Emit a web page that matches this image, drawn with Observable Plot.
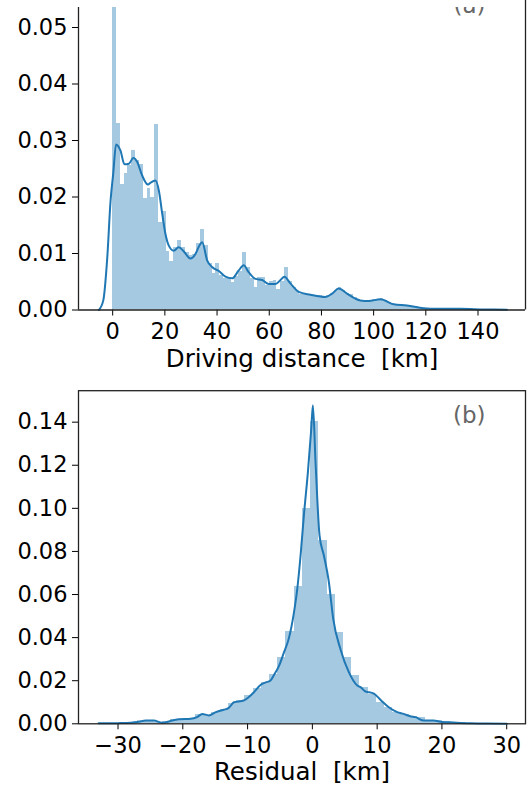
<!DOCTYPE html>
<html><head><meta charset="utf-8">
<script src="https://cdn.jsdelivr.net/npm/d3@7"></script>
<script src="https://cdn.jsdelivr.net/npm/@observablehq/plot@0.6"></script>
<style>
html,body{margin:0;padding:0;background:#fff;}
#chart{width:528px;height:786px;overflow:hidden;}
#chart svg{display:block;}
</style>
</head><body><div id="chart"></div>
<script>
const C0 = "#1f77b4";
const FONT = "DejaVu Sans";

// ---------- Panel (a): driving distance ----------
const distBinStart = 0;
const distBinWidth = 1.464;
const distHist = [
 0.0600,0.0330,0.0222,0.0242,0.0255,0.0282,0.0265,0.0258,0.0198,0.0215,
 0.0200,0.0328,0.0154,0.0174,0.0104,0.0085,0.0110,0.0123,0.0111,0.0101,
 0.0096,0.0098,0.0117,0.0143,0.0115,0.0082,0.0064,0.0082,0.0061,0.0055,
 0.0055,0.0048,0.0060,0.0068,0.0101,0.0075,0.0055,0.0040,0.0058,0.0058,
 0.0043,0.0051,0.0052,0.0037,0.0050,0.0075,0.0050,0.0040,0.0032,0.0027,
 0.0027,0.0027,0.0026,0.0026,0.0025,0.0024,0.0025,0.0029,0.0034,0.0040,
 0.0035,0.0030,0.0027,0.0022,0.0018,0.0017,0.0016,0.0016,0.0018,0.0019,
 0.0020,0.0017,0.0013,0.0010,0.0009,0.0009,0.0008,0.0008,0.0007,0.0006,
 0.0004,0.0003,0.0003,0.0002,0.0002,0.0002,0.0002,0.0002,0.0001,0.0002,
 0.0001,0.0001,0.0001,0.0001,0.0001,0.0000,0.0001,0.0000,0.0000,0.0001
];
const distKdeX = [-5.3,-3.6,-2.1,-0.8,0.2,1.3,3.0,4.5,6.2,7.9,9.4,11.3,13.5,14.7,16.4,17.7,19.0,20.2,21.5,23.4,25.3,27.2,29.8,31.7,33.0,34.3,36.2,38.1,40.7,43.2,45.8,48.3,50.2,52.1,54.7,57.3,59.8,62.4,64.3,65.8,68.1,71.3,75.8,81.5,84.1,86.6,89.8,93.0,94.9,98.1,102.6,107.7,112.8,119.2,124.3,133.3,142.2,151.1];
const distKdeY = [0,0.0017,0.0091,0.0194,0.0241,0.0293,0.0282,0.0258,0.0259,0.0269,0.0262,0.0238,0.0222,0.0226,0.0229,0.0211,0.0170,0.0135,0.0114,0.0105,0.0111,0.0104,0.0091,0.0099,0.0112,0.0120,0.0088,0.0076,0.0069,0.0059,0.0056,0.0070,0.0079,0.0067,0.0055,0.0053,0.0046,0.0046,0.0053,0.0059,0.0047,0.0032,0.0027,0.0023,0.0029,0.0038,0.0029,0.0020,0.0017,0.0016,0.0019,0.0010,0.0008,0.0003,0.0002,0.0002,0.0001,0.00005];
const distTicksX = [0,20,40,60,80,100,120,140];
const distTicksY = [0,0.01,0.02,0.03,0.04,0.05];
const distXDomain = [-13.1, 158.2];
const distYDomain = [0, 0.05354];
const distYTopEdge = 0.05478;
const distLabel = "Driving distance \u00a0[km]";
const distTag = "(a)";

// ---------- Panel (b): residual ----------
const resBinStart = -33.29;
const resBinWidth = 1.27;
const resHist = [
 0.0002,0.0002,0.0003,0.0004,0.0008,0.0014,0.0014,0.0006,0.0012,0.0018,
 0.0022,0.0026,0.0045,0.0040,0.0054,0.0068,0.0095,0.0108,0.0130,0.0165,
 0.0190,0.0230,0.0310,0.0430,0.0637,0.0998,0.1403,0.0851,0.0600,0.0422,
 0.0310,0.0224,0.0170,0.0135,0.0100,0.0075,0.0052,0.0044,0.0035,0.0028,
 0.0014,0.0016,0.0010,0.0006,0.0005,0.0003,0.0003,0.0002,0.0001,0.0001
];
const resKdeX = [-33.0,-30.0,-28.0,-27.0,-25.7,-24.5,-23.2,-21.6,-20.6,-18.8,-17.8,-17.0,-16.0,-14.9,-13.7,-12.9,-12.1,-10.6,-9.8,-9.0,-8.0,-7.2,-6.5,-5.9,-5.2,-4.4,-3.6,-2.85,-2.33,-1.82,-1.31,-0.69,-0.17,0.08,0.49,1.11,1.78,2.55,3.22,4.35,5.63,6.93,7.44,8.2,8.5,9.5,10.5,11.8,13.1,14.1,15.1,15.9,17.2,18.7,20.0,21.8,24.4,26.9,30.0];
const resKdeY = [0.0002,0.0003,0.0005,0.0008,0.0015,0.0015,0.0005,0.0015,0.0021,0.0023,0.0031,0.0046,0.0039,0.0054,0.0065,0.0074,0.0100,0.0108,0.0124,0.0147,0.0180,0.0192,0.0200,0.0228,0.0265,0.0330,0.0400,0.0515,0.0626,0.0781,0.0967,0.1168,0.1369,0.1478,0.1214,0.0873,0.0781,0.0657,0.0487,0.0345,0.0240,0.0178,0.0170,0.0150,0.0148,0.0140,0.0112,0.0077,0.0054,0.0046,0.0035,0.0031,0.0015,0.0015,0.0008,0.0006,0.0002,0.0001,0.0];
const resTicksX = [-30,-20,-10,0,10,20,30];
const resTicksY = [0,0.02,0.04,0.06,0.08,0.10,0.12,0.14];
const resXDomain = [-36.1, 32.9];
const resYDomain = [0, 0.1546];
const resLabel = "Residual \u00a0[km]";
const resTag = "(b)";

// ---------- helpers ----------
function bins(values, start, width) {
  return values.map((v, i) => ({x1: start + i * width, x2: start + (i + 1) * width, y1: 0, y2: v}));
}
function pts(xs, ys) { return xs.map((x, i) => ({x, y: ys[i]})); }

const spine = {stroke: "#222", strokeWidth: 1.3};
const baseStyle = {fontFamily: FONT, fontSize: "22.5px", color: "#000", background: "#fff", overflow: "hidden"};
const fmtX = d3.format("d");
const fmtY = d3.format(".2f");

const plotA = Plot.plot({
  width: 528, height: 375,
  marginLeft: 78, marginRight: 3, marginTop: 7, marginBottom: 65.5,
  style: baseStyle,
  x: {domain: distXDomain, ticks: distTicksX, tickFormat: fmtX, tickSize: 6, tickPadding: 7, label: null},
  y: {domain: distYDomain, ticks: distTicksY, tickFormat: fmtY, tickSize: 6, tickPadding: 5, label: null},
  marks: [
    Plot.rect(bins(distHist, distBinStart, distBinWidth), {x1: "x1", x2: "x2", y1: "y1", y2: "y2", fill: C0, fillOpacity: 0.4, shapeRendering: "crispEdges", clip: true}),
    Plot.line(pts(distKdeX, distKdeY), {x: "x", y: "y", stroke: C0, strokeWidth: 2, curve: "monotone-x"}),
    Plot.ruleY([0], spine),
    Plot.ruleX([distXDomain[0]], {y1: 0, y2: distYDomain[1], ...spine}),
    Plot.ruleX([distXDomain[1]], {y1: 0, y2: distYTopEdge, ...spine}),
    Plot.text([distTag], {text: d => d, frameAnchor: "top-right", textAnchor: "end", lineAnchor: "bottom", dx: -40, dy: 5, fill: "#666", fontSize: 23, clip: true}),
    Plot.text([distLabel], {text: d => d, frameAnchor: "bottom", lineAnchor: "bottom", dy: 57, fontSize: 24.5})
  ]
});

const plotB = Plot.plot({
  width: 528, height: 411,
  marginLeft: 78, marginRight: 3, marginTop: 15.2, marginBottom: 62.7,
  style: baseStyle,
  x: {domain: resXDomain, ticks: resTicksX, tickFormat: fmtX, tickSize: 6, tickPadding: 7, label: null},
  y: {domain: resYDomain, ticks: resTicksY, tickFormat: fmtY, tickSize: 6, tickPadding: 5, label: null},
  marks: [
    Plot.rect(bins(resHist, resBinStart, resBinWidth), {x1: "x1", x2: "x2", y1: "y1", y2: "y2", fill: C0, fillOpacity: 0.4, shapeRendering: "crispEdges"}),
    Plot.line(pts(resKdeX, resKdeY), {x: "x", y: "y", stroke: C0, strokeWidth: 2, curve: "monotone-x"}),
    Plot.frame(spine),
    Plot.text([resTag], {text: d => d, frameAnchor: "top-right", textAnchor: "end", lineAnchor: "bottom", dx: -40, dy: 32, fill: "#666", fontSize: 23}),
    Plot.text([resLabel], {text: d => d, frameAnchor: "bottom", lineAnchor: "bottom", dy: 56, fontSize: 24.5})
  ]
});

const root = document.getElementById("chart");
root.appendChild(plotA);
root.appendChild(plotB);
</script>
</body></html>
